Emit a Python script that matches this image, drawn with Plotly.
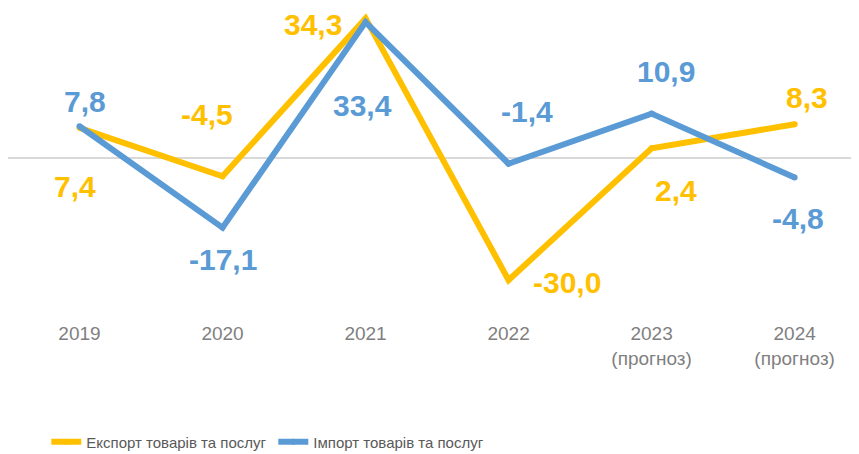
import plotly.graph_objects as go

categories = ["2019", "2020", "2021", "2022", "2023<br>(прогноз)", "2024<br>(прогноз)"]
export_vals = [7.4, -4.5, 34.3, -30.0, 2.4, 8.3]
import_vals = [7.8, -17.1, 33.4, -1.4, 10.9, -4.8]
series_names = ["Експорт товарів та послуг", "Імпорт товарів та послуг"]

YELLOW = "#FFC000"
BLUE = "#5B9BD5"

# label offsets (px) relative to each point
export_shift = [(-5, -59), (-16, 62), (-53, -6), (58, -2), (24, -42), (12, 27)]
import_shift = [(5, 25), (0, -32), (-3, -83), (18, 52), (14, 42), (3, -41)]

fig = go.Figure()
fig.add_trace(go.Scatter(x=categories, y=export_vals, name=series_names[0], mode="lines+markers",
                         line=dict(color=YELLOW, width=6), marker=dict(size=6, color=YELLOW)))
fig.add_trace(go.Scatter(x=categories, y=import_vals, name=series_names[1], mode="lines+markers",
                         line=dict(color=BLUE, width=6), marker=dict(size=6, color=BLUE)))

def fmt(v):
    return f"{v:.1f}".replace(".", ",")

for vals, shifts, col in [(export_vals, export_shift, YELLOW), (import_vals, import_shift, BLUE)]:
    for i, (v, (dx, dy)) in enumerate(zip(vals, shifts)):
        fig.add_annotation(x=i, y=v, text=fmt(v), showarrow=False, xshift=dx, yshift=dy,
                           xanchor="center", yanchor="middle",
                           font=dict(family="Liberation Sans, Arial, sans-serif", size=30, color=col, weight="bold"))

fig.update_layout(
    width=851, height=446,
    margin=dict(l=0, r=0, t=2, b=142),
    plot_bgcolor="white", paper_bgcolor="white",
    showlegend=True,
    legend=dict(orientation="h", x=0.045, xanchor="left", yref="container", y=0.027, yanchor="middle",
                font=dict(family="Liberation Sans, Arial, sans-serif", size=15, color="#595959"),
                entrywidth=182, itemwidth=30, bgcolor="rgba(0,0,0,0)"),
    xaxis=dict(range=[-0.5, 5.45], showgrid=False, showline=False, ticks="", zeroline=False,
               automargin=False, ticklabelstandoff=8,
               tickfont=dict(family="Liberation Sans, Arial, sans-serif", size=19, color="#7f7f7f")),
    yaxis=dict(range=[-37.84, 36.36], showgrid=False, showticklabels=False, ticks="",
               automargin=False,
               zeroline=True, zerolinecolor="#d9d9d9", zerolinewidth=1.5, showline=False),
)

fig.write_html("out.html")
